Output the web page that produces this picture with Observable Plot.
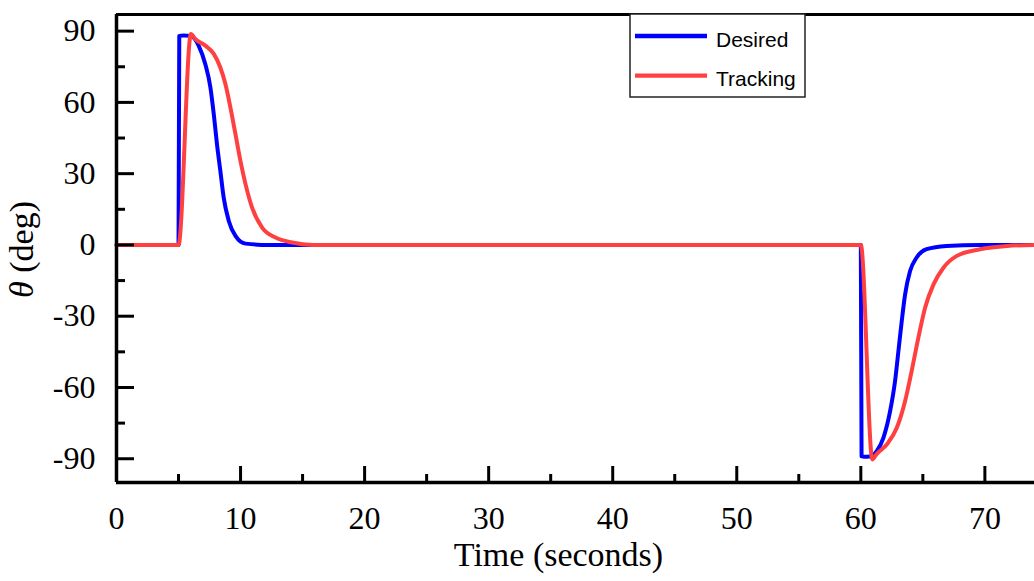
<!DOCTYPE html>
<html>
<head>
<meta charset="utf-8">
<script src="https://cdn.jsdelivr.net/npm/d3@7"></script>
<script src="https://cdn.jsdelivr.net/npm/@observablehq/plot@0.6"></script>
<style>
  html, body { margin: 0; padding: 0; background: #fff; }
  #chart { position: relative; width: 1034px; height: 581px; }
</style>
</head>
<body>
<div id="chart"></div>
<script>
// ---- data ----
const tDesired = [0, 5.0, 5.06, 5.4, 6.0, 6.3, 6.62, 7.16, 7.57, 7.84, 8.1, 8.37, 8.64, 9.05, 9.59, 10.4, 12.3,
  60.0, 60.06, 60.5, 60.9, 61.28, 61.82, 62.36, 62.76, 63.03, 63.3, 63.57, 63.97, 64.5, 65.3, 66.9, 69.6, 74];
const desired = [0, 0, 88, 88.2, 88, 86.8, 83.9, 76.1, 66.3, 55.1, 42.4, 31.2, 19.9, 10.1, 3.8, 0.55, 0,
  0, -89, -89.2, -88.8, -86.8, -81.2, -70, -57.3, -44.7, -32, -20.8, -11, -5.3, -1.8, -0.4, 0, 0];

const tTracking = [0, 5.0, 6.0, 6.35, 7.16, 7.84, 8.37, 8.78, 9.18, 9.59, 9.99, 10.4, 10.93, 11.74, 12.82, 14.16, 15.8,
  60.0, 60.93, 61.28, 62.09, 62.9, 63.57, 64.1, 64.64, 65.18, 65.86, 66.66, 67.74, 69.6, 71.8, 74];
const tracking = [0, 0, 88.8, 86.7, 83.9, 80.4, 74.7, 67.7, 57.9, 46.6, 35.4, 25.6, 15.7, 7.3, 3.1, 1, 0,
  0, -90.3, -88, -84, -77, -65.7, -53, -39, -26.4, -16.6, -9.6, -4.6, -1.8, -0.4, 0];

const xDomain = [0, 74];
const yDomain = [-100, 97];
const xMajor = [0, 10, 20, 30, 40, 50, 60, 70];
const xMinor = [5, 15, 25, 35, 45, 55, 65];
const yMajor = [-90, -60, -30, 0, 30, 60, 90];
const yMinor = [-75, -45, -15, 15, 45, 75];
const seriesNames = ["Desired", "Tracking"];
const seriesColors = ["#0000ff", "#ff4040"];
const xTitle = "Time (seconds)";
const yTitle = "θ (deg)";

// ---- build ----
const W = 1034, H = 581;
const mL = 116, mR = 0, mT = 14, mB = 99;
const plotW = W - mL - mR, plotH = H - mT - mB;
const serif = "'Liberation Serif', 'Times New Roman', serif";

const desiredData = tDesired.map((t, i) => ({t, v: desired[i]}));
const trackingData = tTracking.map((t, i) => ({t, v: tracking[i]}));

const chart = Plot.plot({
  width: W, height: H,
  marginLeft: mL, marginRight: mR, marginTop: mT, marginBottom: mB,
  x: {domain: xDomain},
  y: {domain: yDomain},
  style: {fontFamily: serif, background: "#fff", color: "#000"},
  marks: [
    Plot.line(desiredData, {x: "t", y: "v", stroke: seriesColors[0], strokeWidth: 4, curve: "monotone-x", strokeLinejoin: "round"}),
    Plot.line(trackingData, {x: "t", y: "v", stroke: seriesColors[1], strokeWidth: 4, curve: "monotone-x", strokeLinejoin: "round"}),
    // ticks (inward)
    Plot.tickX(xMajor, {x: d => d, stroke: "#000", strokeWidth: 3, insetTop: plotH - 16}),
    Plot.tickX(xMinor, {x: d => d, stroke: "#000", strokeWidth: 3, insetTop: plotH - 8}),
    Plot.tickY(yMajor, {y: d => d, stroke: "#000", strokeWidth: 3, insetRight: plotW - 18}),
    Plot.tickY(yMinor, {y: d => d, stroke: "#000", strokeWidth: 3, insetRight: plotW - 9}),
    // frame lines
    Plot.ruleX([xDomain[0]], {stroke: "#000", strokeWidth: 3.5}),
    Plot.ruleY([yDomain[0]], {stroke: "#000", strokeWidth: 3.5}),
    Plot.ruleY([yDomain[1]], {stroke: "#000", strokeWidth: 3}),
    // axis labels
    Plot.axisX(xMajor, {tickSize: 0, tickPadding: 24, fontSize: 32, fontFamily: serif, label: null, tickFormat: d => String(d)}),
    Plot.axisY(yMajor, {tickSize: 0, tickPadding: 21, fontSize: 32, fontFamily: serif, label: null, tickFormat: d => String(d)}),
    // titles
    Plot.text([xTitle], {frameAnchor: "bottom", textAnchor: "middle", lineAnchor: "bottom", dy: 83, dx: -17, fontSize: 34, fontFamily: serif, fill: "#000"}),
    Plot.text([yTitle], {frameAnchor: "left", textAnchor: "middle", rotate: -90, dx: -94, dy: 1, fontSize: 34, fontFamily: serif, fill: "#000"})
  ]
});

document.getElementById("chart").appendChild(chart);

// italic theta in y title
const svg = d3.select(chart);
svg.selectAll("text").filter(function() { return this.textContent === yTitle; }).each(function() {
  const el = d3.select(this);
  el.text(null);
  el.append("tspan").attr("font-style", "italic").text("θ");
  el.append("tspan").text(" (deg)");
});

// legend box
const lg = svg.append("g").attr("font-family", "'Liberation Sans', Arial, sans-serif").attr("font-size", 21).attr("text-anchor", "start");
lg.append("rect").attr("x", 630).attr("y", 14).attr("width", 175).attr("height", 83)
  .attr("fill", "#fff").attr("stroke", "#222").attr("stroke-width", 1.5);
seriesNames.forEach((name, i) => {
  const y = 36 + i * 39.7;
  lg.append("line").attr("x1", 635).attr("x2", 707).attr("y1", y).attr("y2", y)
    .attr("stroke", seriesColors[i]).attr("stroke-width", 4.3);
  lg.append("text").attr("x", 716).attr("y", y + 3).attr("dy", "0.36em").attr("fill", "#000").text(name);
});
</script>
</body>
</html>
